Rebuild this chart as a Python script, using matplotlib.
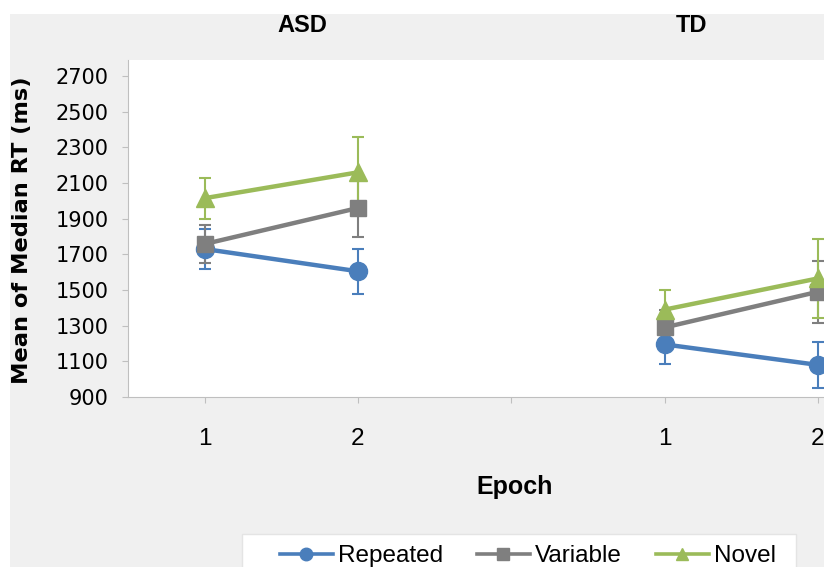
import matplotlib.pyplot as plt
from matplotlib.patches import Rectangle
from matplotlib.lines import Line2D

plt.rcParams['font.family'] = ['Liberation Sans', 'DejaVu Sans']

groups = ['ASD', 'TD']
positions = [1, 2, 4, 5]
tick_labels = ['1', '2', '', '1', '2']

repeated = [1730, 1605, 1195, 1080]
repeated_err = [110, 125, 108, 130]
variable = [1758, 1960, 1290, 1490]
variable_err = [107, 160, 100, 175]
novel = [2015, 2160, 1390, 1565]
novel_err = [116, 200, 108, 220]

series = [
    ('Repeated', repeated, repeated_err, '#4a7ebb', 'o', 13),
    ('Variable', variable, variable_err, '#7f7f7f', 's', 12),
    ('Novel', novel, novel_err, '#9bbb59', '^', 13),
]

W, H = 824, 567
fig = plt.figure(figsize=(W / 100, H / 100), dpi=100)
fig.patch.set_facecolor('white')
# grey chart area with a thin white margin at top/left
fig.patches.append(Rectangle((10 / W, 0), 1, 1 - 14 / H, transform=fig.transFigure,
                             facecolor='#f0f0f0', edgecolor='none', zorder=-10))
# legend box, runs off the bottom of the picture
fig.patches.append(Rectangle((242 / W, -0.05), (796 - 242) / W, 0.05 + 1 - 534 / H,
                             transform=fig.transFigure, facecolor='white',
                             edgecolor='#e4e4e4', lw=1, zorder=-5))

ax = fig.add_axes([128 / W, 1 - 397 / H, (W - 128) / W, (397 - 60) / H])
ax.set_facecolor('white')

for name, vals, errs, col, mk, ms in series:
    for g in range(2):
        idx = [2 * g, 2 * g + 1]
        ax.errorbar([positions[i] for i in idx], [vals[i] for i in idx],
                    yerr=[errs[i] for i in idx], color=col, lw=3.2, marker=mk,
                    ms=ms, ecolor=col, elinewidth=1.5, capsize=4.5, capthick=1.5)

ax.set_ylim(900, 2790)
ax.set_xlim(0.5, 5.04)
ax.set_yticks(range(900, 2701, 200))
ax.set_xticks([1, 2, 3, 4, 5])
ax.set_xticklabels(tick_labels)
ax.tick_params(axis='x', length=4, pad=18, labelsize=17.5, color='#bfbfbf')
ax.tick_params(axis='y', length=4, pad=10, color='#bfbfbf')
for lab in ax.get_yticklabels():
    lab.set_fontfamily('DejaVu Sans')
    lab.set_fontsize(15)
for s in ['top', 'right']:
    ax.spines[s].set_visible(False)
for s in ['left', 'bottom']:
    ax.spines[s].set_color('#bfbfbf')

fig.text(22 / W, 1 - 230 / H, 'Mean of Median RT (ms)', rotation=90,
         fontsize=16.2, fontweight='bold', family='DejaVu Sans',
         ha='center', va='center')
fig.text(515 / W, 1 - 494 / H, 'Epoch', fontsize=18, fontweight='bold',
         ha='center', va='baseline')
fig.text(302 / W, 1 - 31.5 / H, groups[0], fontsize=17, fontweight='bold',
         ha='center', va='baseline')
fig.text(692 / W, 1 - 31.5 / H, groups[1], fontsize=17, fontweight='bold',
         ha='center', va='baseline')

handles = [Line2D([], [], color=c, lw=2.6, marker=m, ms=9) for _, _, _, c, m, _ in series]
fig.legend(handles, [s[0] for s in series], loc='center left',
           bbox_to_anchor=(280 / W, 1 - 556 / H), ncol=3, fontsize=17.5,
           frameon=False, handlelength=2.18, handletextpad=0.2,
           columnspacing=1.4, borderaxespad=0, borderpad=0)

fig.savefig('out.png', dpi=100)
